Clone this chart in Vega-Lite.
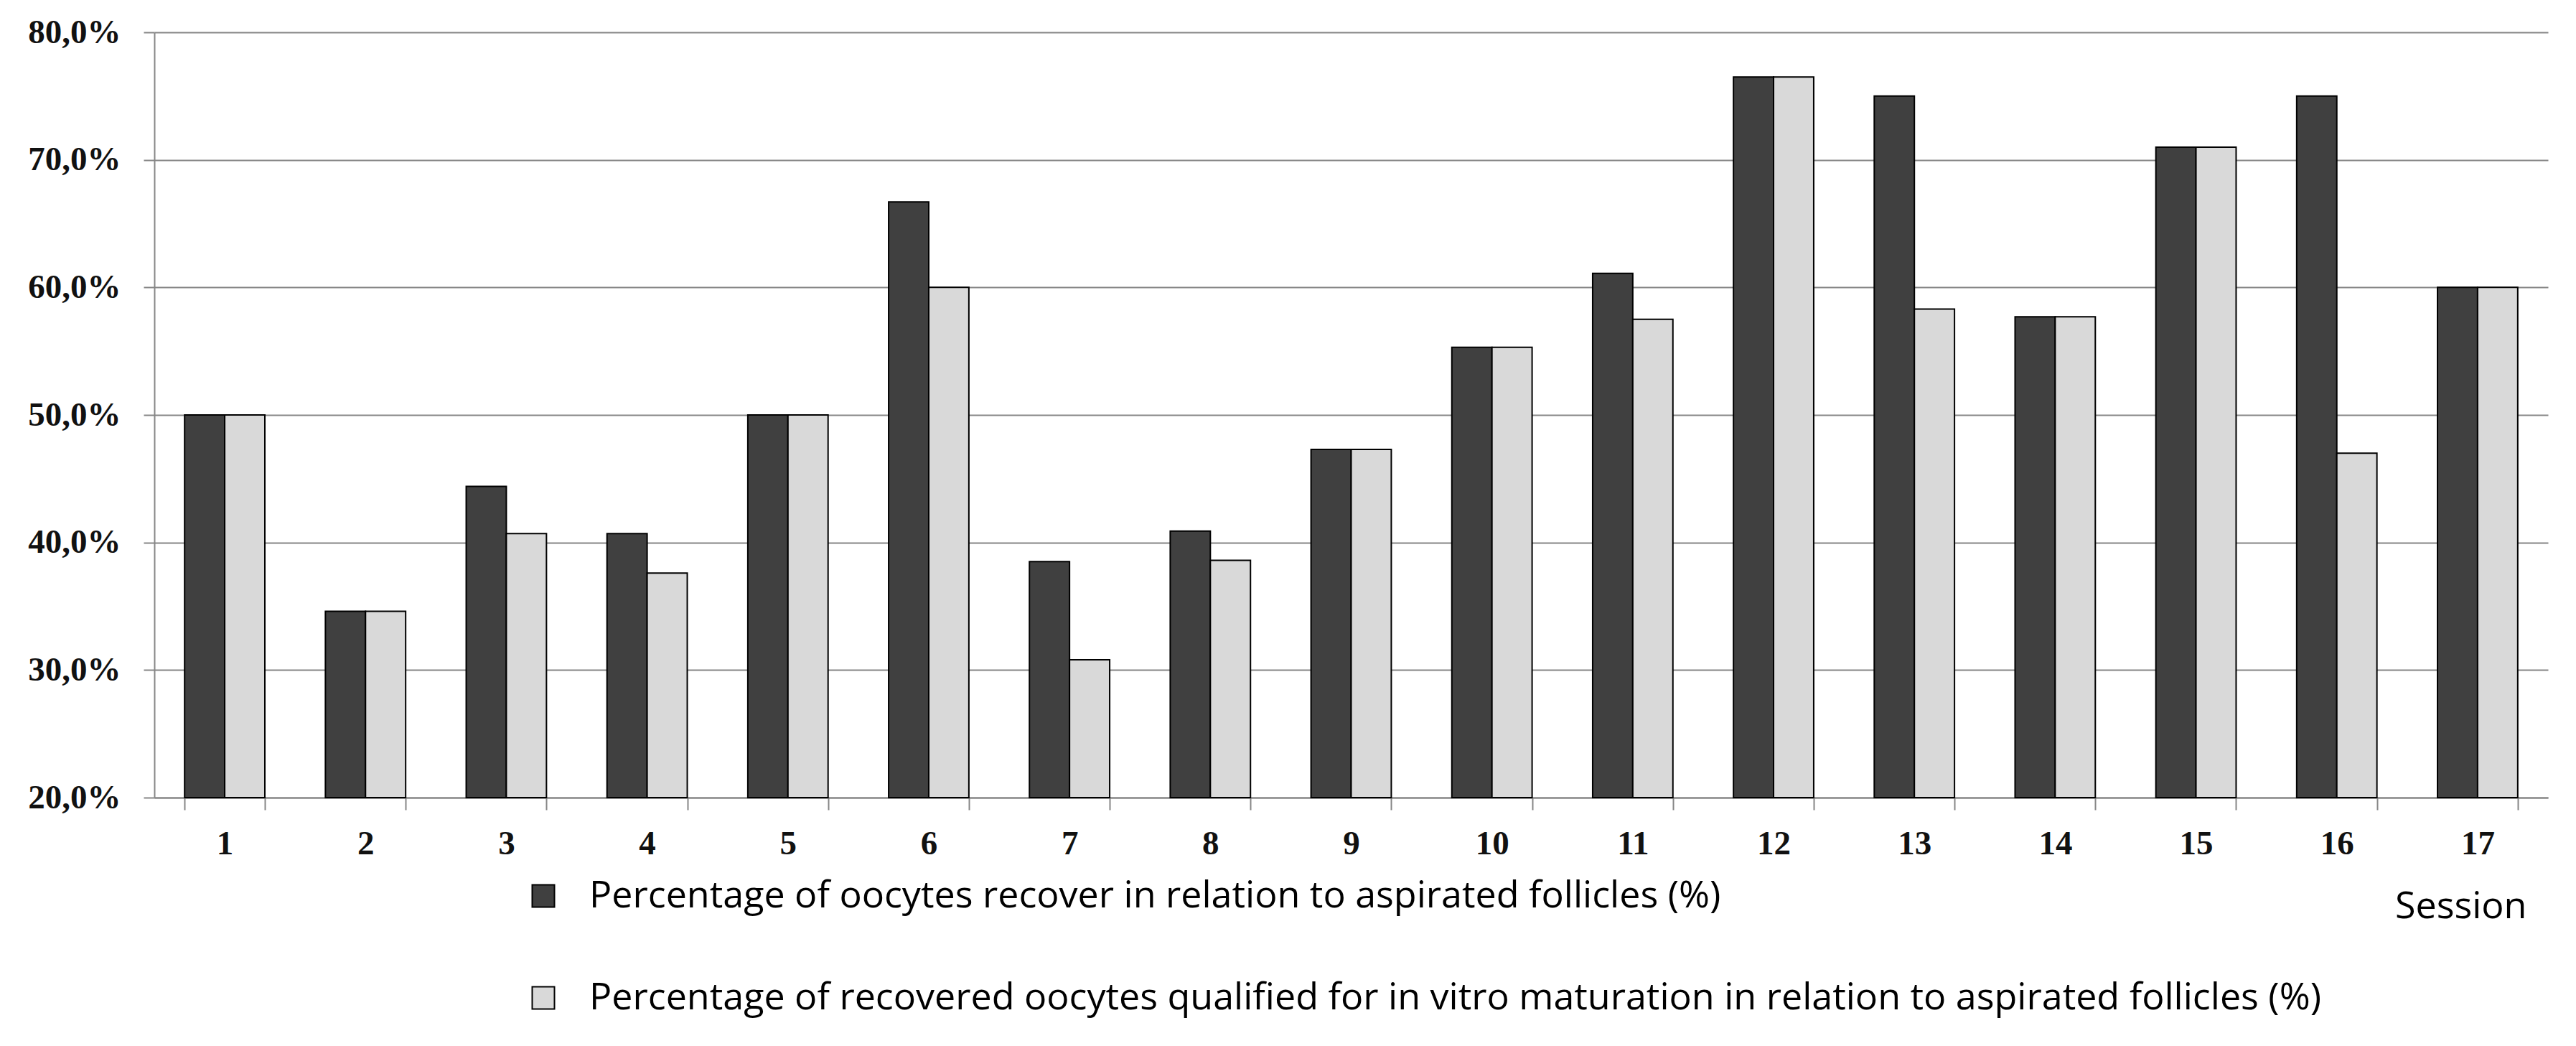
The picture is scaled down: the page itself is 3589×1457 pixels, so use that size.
{
  "$schema": "https://vega.github.io/schema/vega-lite/v6.json",
  "description": "Oocyte recovery per session, grouped bars",
  "width": 3335,
  "height": 1066,
  "autosize": "none",
  "padding": {"left": 215, "top": 45, "right": 39, "bottom": 346},
  "background": "white",
  "data": {
    "values": [
      {"session": "1", "series": "recover", "pct": 50.0},
      {"session": "1", "series": "qualified", "pct": 50.0},
      {"session": "2", "series": "recover", "pct": 34.6},
      {"session": "2", "series": "qualified", "pct": 34.6},
      {"session": "3", "series": "recover", "pct": 44.4},
      {"session": "3", "series": "qualified", "pct": 40.7},
      {"session": "4", "series": "recover", "pct": 40.7},
      {"session": "4", "series": "qualified", "pct": 37.6},
      {"session": "5", "series": "recover", "pct": 50.0},
      {"session": "5", "series": "qualified", "pct": 50.0},
      {"session": "6", "series": "recover", "pct": 66.7},
      {"session": "6", "series": "qualified", "pct": 60.0},
      {"session": "7", "series": "recover", "pct": 38.5},
      {"session": "7", "series": "qualified", "pct": 30.8},
      {"session": "8", "series": "recover", "pct": 40.9},
      {"session": "8", "series": "qualified", "pct": 38.6},
      {"session": "9", "series": "recover", "pct": 47.3},
      {"session": "9", "series": "qualified", "pct": 47.3},
      {"session": "10", "series": "recover", "pct": 55.3},
      {"session": "10", "series": "qualified", "pct": 55.3},
      {"session": "11", "series": "recover", "pct": 61.1},
      {"session": "11", "series": "qualified", "pct": 57.5},
      {"session": "12", "series": "recover", "pct": 76.5},
      {"session": "12", "series": "qualified", "pct": 76.5},
      {"session": "13", "series": "recover", "pct": 75.0},
      {"session": "13", "series": "qualified", "pct": 58.3},
      {"session": "14", "series": "recover", "pct": 57.7},
      {"session": "14", "series": "qualified", "pct": 57.7},
      {"session": "15", "series": "recover", "pct": 71.0},
      {"session": "15", "series": "qualified", "pct": 71.0},
      {"session": "16", "series": "recover", "pct": 75.0},
      {"session": "16", "series": "qualified", "pct": 47.0},
      {"session": "17", "series": "recover", "pct": 60.0},
      {"session": "17", "series": "qualified", "pct": 60.0}
    ]
  },
  "mark": {"type": "bar", "stroke": "black", "strokeWidth": 2},
  "encoding": {
    "x": {
      "field": "session",
      "type": "ordinal",
      "sort": null,
      "scale": {"paddingInner": 0.43, "paddingOuter": 0.215},
      "axis": {
        "title": "Session",
        "titleFont": "Liberation Sans Narrow, Open Sans",
        "titleFontSize": 52,
        "titleFontWeight": "normal",
        "titleColor": "black",
        "titleAnchor": null,
        "titleAlign": "right",
        "titleBaseline": "alphabetic",
        "titleX": 3305,
        "titleY": 167,
        "labelAngle": 0,
        "labelFont": "Liberation Serif",
        "labelFontSize": 47,
        "labelFontWeight": "bold",
        "labelColor": "#111111",
        "labelBaseline": "alphabetic",
        "labelPadding": 61,
        "tickBand": "extent",
        "tickSize": 17,
        "tickWidth": 2,
        "tickColor": "#868686",
        "domainColor": "#868686",
        "domainWidth": 2,
        "grid": false
      }
    },
    "xOffset": {"field": "series", "type": "nominal", "sort": ["recover", "qualified"], "scale": {"paddingInner": 0, "paddingOuter": 0}},
    "y": {
      "field": "pct",
      "type": "quantitative",
      "scale": {"domain": [20, 80], "zero": false, "nice": false},
      "axis": {
        "title": null,
        "values": [20, 30, 40, 50, 60, 70, 80],
        "labelExpr": "replace(format(datum.value, '.1f'), '.', ',') + '%'",
        "labelFont": "Liberation Serif",
        "labelFontSize": 47,
        "labelFontWeight": "bold",
        "labelColor": "#111111",
        "labelPadding": 32,
        "tickSize": 15,
        "tickWidth": 2,
        "tickColor": "#868686",
        "domainColor": "#868686",
        "domainWidth": 2,
        "grid": true,
        "gridColor": "#868686",
        "gridWidth": 2
      }
    },
    "y2": {"datum": 20},
    "color": {
      "field": "series",
      "type": "nominal",
      "scale": {"domain": ["recover", "qualified"], "range": ["#404040", "#d9d9d9"]},
      "legend": {
        "title": null,
        "orient": "none",
        "legendX": 516,
        "legendY": 1177,
        "padding": 0,
        "direction": "vertical",
        "symbolType": "square",
        "symbolSize": 961,
        "symbolStrokeColor": "black",
        "symbolStrokeWidth": 2,
        "symbolOpacity": 1,
        "labelFont": "Liberation Sans Narrow, Open Sans",
        "labelFontSize": 52,
        "labelColor": "black",
        "labelOffset": 38,
        "labelLimit": 3200,
        "rowPadding": 90,
        "labelExpr": "datum.value == 'recover' ? 'Percentage of oocytes recover in relation to aspirated follicles (%)' : 'Percentage of recovered oocytes qualified for in vitro maturation in relation to aspirated follicles (%)'"
      }
    }
  },
  "config": {"view": {"stroke": null}}
}
